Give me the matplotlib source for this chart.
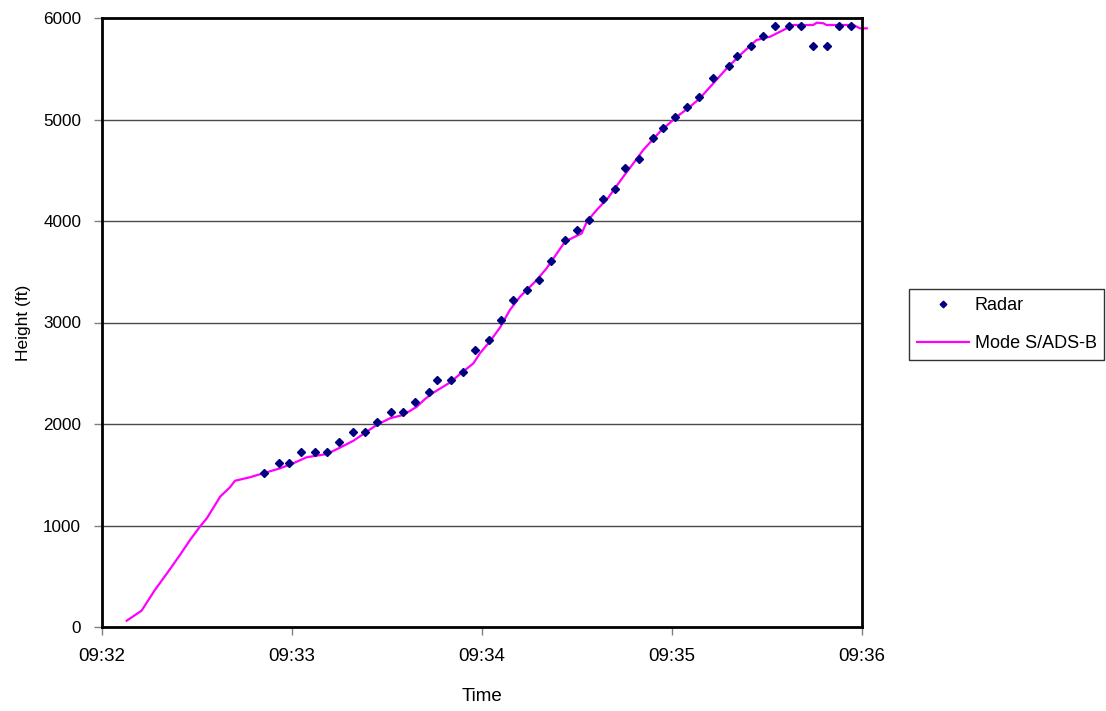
import matplotlib
matplotlib.use("Agg")
import matplotlib.pyplot as plt

plt.rcParams['font.family'] = ['Liberation Sans', 'DejaVu Sans']

# Radar: seconds after 09:32:00 and height (ft)
radar_t = [51.3, 55.8, 59.0, 62.7, 67.2, 71.0, 74.7, 79.2, 83.0, 86.7, 91.2, 95.0,
           98.7, 103.2, 105.7, 110.1, 113.9, 117.7, 122.1, 125.9, 129.7, 134.1, 137.9,
           141.7, 146.1, 149.9, 153.7, 158.1, 161.9, 165.1, 169.5, 173.9, 177.1, 180.9,
           184.6, 188.4, 192.9, 197.9, 200.4, 204.9, 208.6, 212.4, 216.8, 220.6, 224.4,
           228.8, 232.6, 236.4]
radar_h = [1520, 1620, 1620, 1720, 1720, 1720, 1820, 1920, 1920, 2020, 2120, 2120,
           2220, 2320, 2430, 2430, 2510, 2730, 2830, 3025, 3220, 3320, 3420,
           3610, 3810, 3910, 4010, 4220, 4320, 4520, 4610, 4820, 4920, 5020,
           5120, 5220, 5410, 5530, 5630, 5720, 5820, 5920, 5920, 5920, 5720,
           5720, 5920, 5920]

# Mode S/ADS-B: seconds after 09:32:00 and height (ft)
modes_t = [7.8, 12.5, 16.7, 20.9, 24.6, 27.8, 30.9, 33.1, 35.7, 37.3, 40.4, 42.0,
           46.7, 51.5, 56.2, 60.4, 64.6, 71.0, 75.2, 79.4, 83.6, 86.7, 90.9, 95.1,
           99.4, 102.0, 104.6, 109.9, 113.1, 117.3, 119.4, 122.5, 125.7, 128.8, 132.0,
           137.3, 140.4, 146.2, 151.5, 153.1, 156.2, 159.8, 164.6, 167.8, 170.9, 176.2,
           181.5, 185.7, 188.8, 197.3, 201.5, 206.7, 211.0, 213.1, 216.2, 218.3, 224.6,
           225.7, 227.8, 228.8, 237.3, 239.4, 241.5]
modes_h = [62, 161, 365, 545, 709, 857, 988, 1071, 1202, 1284, 1376, 1441,
           1475, 1520, 1563, 1613, 1672, 1704, 1768, 1835, 1924, 1990, 2056, 2089,
           2170, 2246, 2308, 2409, 2493, 2598, 2699, 2813, 2951, 3123, 3254,
           3419, 3534, 3796, 3879, 3993, 4108, 4227, 4436, 4568, 4699, 4880,
           5027, 5126, 5209, 5504, 5635, 5783, 5816, 5849, 5898, 5931, 5931,
           5954, 5948, 5931, 5931, 5898, 5898]

x_ticks = [0, 60, 120, 180, 240]
x_tick_labels = ["09:32", "09:33", "09:34", "09:35", "09:36"]
y_ticks = [0, 1000, 2000, 3000, 4000, 5000, 6000]

fig = plt.figure(figsize=(11.06, 7.11), dpi=100)
ax = fig.add_axes([102/1106, 1-627/711, 760/1106, 609/711])

ax.set_xlim(0, 240)
ax.set_ylim(0, 6000)
ax.set_axisbelow(True)
for y in y_ticks[1:-1]:
    ax.axhline(y, color='#4a4a4a', linewidth=1.0, zorder=0)

ax.plot(radar_t, radar_h, linestyle='none', marker='D', markersize=4.2,
        color='#000080', label='Radar', zorder=3)
ax.plot(modes_t, modes_h, color='#FF00FF', linewidth=1.6, label='Mode S/ADS-B',
        zorder=2, clip_on=False)

ax.set_xticks(x_ticks)
ax.set_xticklabels(x_tick_labels)
ax.set_yticks(y_ticks)
ax.tick_params(axis='both', direction='out', length=6, width=1, color='#808080')
ax.tick_params(axis='x', labelsize=13.5, pad=9)
ax.tick_params(axis='y', labelsize=12.3, pad=9)
for s in ax.spines.values():
    s.set_linewidth(2)
    s.set_color('black')

ax.set_xlabel('Time', fontsize=13.5, labelpad=17)
ax.set_ylabel('Height (ft)', fontsize=12.5, labelpad=9)

leg = fig.legend(loc='upper left', bbox_to_anchor=(909/1106, 1-358/711, 195/1106, 69/711),
                 mode='expand', fontsize=13, frameon=True, fancybox=False,
                 edgecolor='black', borderaxespad=0, handlelength=2.9,
                 handletextpad=0.3, labelspacing=1.15, borderpad=0.45, markerscale=0.8)
leg.get_frame().set_linewidth(1.0)

fig.savefig('out.png', dpi=100)
